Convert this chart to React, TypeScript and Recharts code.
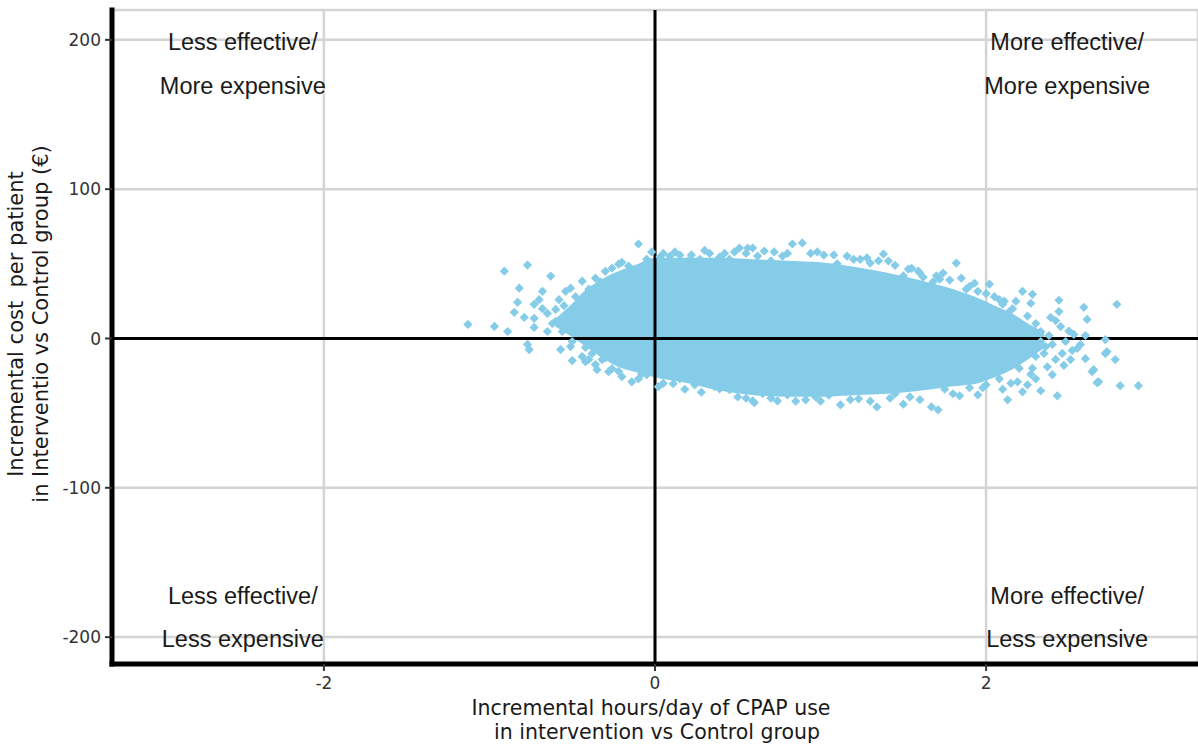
import React from 'react';
import {
  ComposedChart, XAxis, YAxis, CartesianGrid, Scatter, Area, ReferenceLine, ReferenceDot,
} from 'recharts';

// ---- axes ----
const X_TICKS = [-2, 0, 2];
const Y_TICKS = [-200, -100, 0, 100, 200];
const X_DOMAIN: [number, number] = [-3.28, 3.28];
const Y_DOMAIN: [number, number] = [-218, 220];

// ---- dense core of the simulated cloud (solid region): x, lower, upper ----
const coreX = [-0.6, -0.5, -0.42, -0.33, -0.22, -0.1, 0, 0.2, 0.4, 0.6, 0.8, 1.0, 1.2, 1.4, 1.6, 1.8, 1.95, 2.05, 2.15, 2.25, 2.35];
const coreLow = [9, 2, -4, -11, -18, -22, -25, -29, -34, -37, -38, -38, -37, -36, -34, -31, -29, -25, -20, -13, -5];
const coreHigh = [12, 22, 31, 38, 44, 49, 53, 53, 53, 52, 51, 50, 47, 43, 38, 32, 26, 21, 16, 9, 3];

// ---- scattered bootstrap replicates around the core ----
const leftX = [-1.13, -0.97, -0.89, -0.91, -0.77, -0.63, -0.82, -0.68, -0.83, -0.73, -0.85, -0.79, -0.73, -0.65, -0.6, -0.54, -0.51, -0.6, -0.73, -0.65, -0.56, -0.1, -0.26, -0.22, -0.16, -0.44, -0.36, -0.76, -0.77, -0.57, -0.51, -0.5, -0.44, -0.42, -0.36, -0.35, -0.28, -0.26, -0.2, -0.14, -0.18, -0.08, -0.32, 0.02, -0.05, -0.48, -0.4, -0.33, -0.47, -0.55, -0.58, -0.5, -0.42, -0.38, -0.3, -0.62, -0.68, -0.7, -0.02, -0.2, -0.3, -0.1, -0.22, -0.4];
const leftY = [9.4, 8.1, 4.7, 45.1, 49.2, 41.8, 33.7, 31.6, 24.2, 22.9, 17.5, 14.1, 13.5, 16.8, 19.5, 31.6, 33.7, 11.4, 7.4, 4.7, 4.7, 63.3, 47.1, 49.8, 48.5, 38.4, 40.4, -7.4, -4.0, -7.4, -5.4, -14.8, -12.1, -15.5, -17.5, -20.9, -22.2, -20.2, -25.6, -29.0, -17.5, -23.6, -14.1, -32.3, -24.2, 28, 33, 38, 15, 22, 26, -2, -6, -10, -13, 10, 20, 26, 58, 51, 45, -27, -22, -14];

const topX = [0.51, 0.56, 0.59, 0.83, 0.89, 0.15, 0.03, 0.09, 0.39, 1.02, 1.16, 1.38, 0.77, 0.62, 1.41, 1.82, 1.74, 1.85, 1.59, 1.53, 1.72, 1.93, 2.02, 2.22, 2.28, 2.44, 2.59, 2.79, 2.61, 2.27, 2.39, 1.78, 1.6, 1.95, 0.27, 0.33, 0.66, 0.94, 1.24, 1.3, -0.05, 0.2, 0.45, 0.7, 1.1, 1.5, 1.68, 1.88, 2.08, 2.16, 2.1, 0.05, 0.12, 0.22, 0.3, 0.42, 0.48, 0.55, 0.72, 0.8, 0.98, 1.08, 1.2, 1.28, 1.35, 1.45, 1.55, 1.62, 1.7, 1.9, 2.0, 2.18];
const topY = [60.6, 60.6, 60.6, 63.3, 64.0, 55.9, 54.5, 55.2, 54.5, 55.9, 55.2, 56.6, 55.2, 55.2, 51.9, 50.5, 43.8, 40.4, 45.1, 46.5, 39.7, 37.0, 36.4, 31.6, 29.6, 25.6, 20.9, 22.9, 12.8, 23.6, 14.1, 39.1, 43.8, 31.6, 53, 57, 58.6, 57, 53, 50.5, 53, 52, 53, 52, 50, 42, 38, 33, 26, 20, 23, 57, 58, 56, 59, 57, 58, 57, 58, 57, 58, 56, 53, 54, 52, 49, 47, 41, 42, 35, 30, 25];

const bottomX = [0.5, 0.59, 0.74, 0.91, 1.12, 1.34, 1.67, 1.71, 1.54, 1.84, 1.95, 2.13, 2.22, 2.43, 2.4, 2.51, 2.6, 2.64, 2.67, 2.72, 2.78, 2.81, 2.92, 2.72, 2.55, 2.53, 2.57, 2.73, 2.65, 2.68, 2.33, 2.25, 2.19, 0.11, 0.24, 0.36, 0.97, 1.23, 0.39, 0.45, 0.8, 1.05, 1.45, 1.75, 2.0, 2.08, 0.65, 0.15, 1.9, 2.1, 2.3, 0.05, 0.18, 0.28, 0.55, 0.7, 0.85, 1.0, 1.18, 1.3, 1.42, 1.6, 1.8, 1.98, 2.15, 2.28, 1.5, 0.6];
const bottomY = [-39.1, -41.8, -41.8, -41.1, -44.4, -45.8, -45.8, -47.8, -39.1, -38.4, -37.7, -41.1, -35.7, -38.4, -24.2, -14.1, -13.5, -22.2, -29.6, -10.1, -14.1, -31.6, -31.6, -0.7, -6.7, 2.7, -4.0, -8.8, -20.9, -29.0, -35.0, -31.0, -29.0, -30.3, -31.0, -32.3, -39.1, -40.4, -33.7, -34.3, -37.7, -38, -37, -34, -31, -27, -37, -27, -33, -34, -27, -30, -34, -36, -40, -40, -42, -42, -41, -42, -40, -41, -37, -33, -30, -20, -44, -43];

const tailX = [2.33, 2.36, 2.3, 2.45, 2.46, 2.37, 2.27, 2.14, 2.11, 2.05, 2.48, 2.44, 2.3, 2.38, 2.42, 2.2, 2.25, 2.33, 2.4, 2.5, 2.42, 2.35, 2.52, 2.6, 2.47];
const tailY = [4.7, -5.4, -12, 8, -10, -19, -24, 18, 25, 28, -2, 18, 10, 2, -14, -20, 15, -2, -4, 5, 12, -10, -8, 2, -18];

// ---- quadrant labels ----
const quadX = [-2.49, -2.49, 2.49, 2.49, -2.49, -2.49, 2.49, 2.49];
const quadY = [199, 169, 199, 169, -172, -201, -172, -201];
const quadText = [
  'Less effective/', 'More expensive', 'More effective/', 'More expensive',
  'Less effective/', 'Less expensive', 'More effective/', 'Less expensive',
];

const X_TITLE = ['Incremental hours/day of CPAP use', 'in intervention vs Control group'];
const Y_TITLE = ['Incremental cost  per patient', 'in Interventio vs Control group (€)'];

const COLOR = '#85CCE8';
const TITLE_FONT = '"DejaVu Sans", Verdana, sans-serif';

const coreData = coreX.map((x, i) => ({ x, range: [coreLow[i], coreHigh[i]] }));
const pts = (xs: number[], ys: number[]) => xs.map((x, i) => ({ x, y: ys[i] }));
const scatterData = [
  ...pts(leftX, leftY), ...pts(topX, topY), ...pts(bottomX, bottomY), ...pts(tailX, tailY),
];

const Diamond = (props: any) => {
  const { cx, cy } = props;
  if (cx == null || cy == null) return null;
  const r = 4.6;
  return <path d={`M${cx},${cy - r}L${cx + r},${cy}L${cx},${cy + r}L${cx - r},${cy}Z`} fill={COLOR} />;
};

const XTitle = (props: any) => {
  const vb = props.viewBox || {};
  const cx = vb.x + vb.width / 2;
  return (
    <g>
      <text x={cx - 4} y={vb.y + 51} textAnchor="middle" fontFamily={TITLE_FONT} fontSize={20.5} fill="#1a1a1a">{X_TITLE[0]}</text>
      <text x={cx + 2} y={vb.y + 75} textAnchor="middle" fontFamily={TITLE_FONT} fontSize={20.5} fill="#1a1a1a">{X_TITLE[1]}</text>
    </g>
  );
};

const YTitle = (props: any) => {
  const vb = props.viewBox || {};
  const cy = vb.y + vb.height / 2 - 13;
  const x1 = 23;
  const x2 = 48;
  return (
    <g>
      <text x={x1} y={cy} transform={`rotate(-90, ${x1}, ${cy})`} textAnchor="middle" fontFamily={TITLE_FONT} fontSize={21} fill="#1a1a1a" style={{ whiteSpace: 'pre' }}>{Y_TITLE[0]}</text>
      <text x={x2} y={cy} transform={`rotate(-90, ${x2}, ${cy})`} textAnchor="middle" fontFamily={TITLE_FONT} fontSize={21} fill="#1a1a1a">{Y_TITLE[1]}</text>
    </g>
  );
};

export default function App() {
  return (
    <div style={{ position: 'absolute', left: 0, top: 0, width: 1198, height: 752, background: '#fff' }}>
      <ComposedChart width={1198} height={752} data={coreData} margin={{ top: 10, right: 0, bottom: 0, left: 0 }}>
        <CartesianGrid stroke="#d4d4d4" strokeWidth={2.5} />
        <XAxis
          type="number" dataKey="x" domain={X_DOMAIN} ticks={X_TICKS} allowDataOverflow
          height={88} tickSize={7} tickMargin={6}
          axisLine={{ stroke: '#000', strokeWidth: 5, strokeLinecap: 'square' }}
          tickLine={{ stroke: '#333', strokeWidth: 2 }}
          tick={{ fill: '#333', fontSize: 17, fontFamily: TITLE_FONT }}
          label={<XTitle />}
        />
        <YAxis
          type="number" domain={Y_DOMAIN} ticks={Y_TICKS} allowDataOverflow
          width={112} tickSize={7} tickMargin={4}
          axisLine={{ stroke: '#000', strokeWidth: 5, strokeLinecap: 'square' }}
          tickLine={{ stroke: '#333', strokeWidth: 2 }}
          tick={{ fill: '#333', fontSize: 17, fontFamily: TITLE_FONT }}
          label={<YTitle />}
        />
        <Area
          dataKey="range" type="monotone" fill={COLOR} fillOpacity={1} stroke={COLOR} strokeWidth={3}
          isAnimationActive={false} dot={false} activeDot={false}
        />
        <Scatter data={scatterData} dataKey="y" shape={<Diamond />} isAnimationActive={false} />
        <ReferenceLine x={0} stroke="#000" strokeWidth={3} />
        <ReferenceLine y={0} stroke="#000" strokeWidth={3} />
        {quadText.map((t, i) => (
          <ReferenceDot
            key={i} x={quadX[i]} y={quadY[i]} r={0} fill="none" stroke="none"
            label={{ value: t, position: 'center', fill: '#1a1a1a', fontSize: 23.5, fontFamily: '"Liberation Sans", Arial, sans-serif' }}
          />
        ))}
      </ComposedChart>
    </div>
  );
}
